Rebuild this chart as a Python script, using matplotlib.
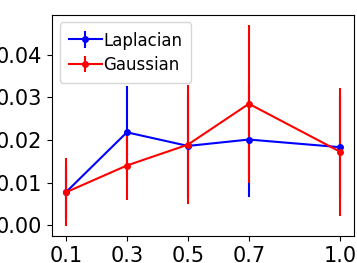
import numpy as np
import matplotlib
matplotlib.use('Agg')
import matplotlib.pyplot as plt

# ================================
# DATA
# ================================

x = [0.1, 0.3, 0.5, 0.7, 1.0]

lap_mean = [0.0077, 0.0218, 0.0186, 0.0201, 0.0183]
lap_err = [0.0060, 0.0108, 0.0120, 0.0134, 0.0120]

gau_mean = [0.0077, 0.0140, 0.0189, 0.0285, 0.0172]
gau_err = [0.0080, 0.0082, 0.0139, 0.0185, 0.0150]

# ================================
# PLOT
# ================================

fig = plt.figure(figsize=(3.57, 2.63), dpi=100)
ax = fig.add_axes([0.146, 0.101, 0.846, 0.842])

ax.errorbar(x, lap_mean, yerr=lap_err, color='blue', marker='o',
            markersize=4, linewidth=1.5, elinewidth=1.5, label='Laplacian')
ax.errorbar(x, gau_mean, yerr=gau_err, color='red', marker='o',
            markersize=4, linewidth=1.5, elinewidth=1.5, label='Gaussian')

ax.set_xticks(x)
ax.set_xticklabels(['0.1', '0.3', '0.5', '0.7', '1.0'])
ax.set_yticks([0.0, 0.01, 0.02, 0.03, 0.04])
ax.tick_params(labelsize=15)

ax.legend(loc='upper left', fontsize=12, handlelength=2.0,
          handleheight=0.9, borderpad=0.55, handletextpad=0.05,
          labelspacing=0.4, borderaxespad=0.45)

fig.savefig('out.png', dpi=100)
plt.close()
